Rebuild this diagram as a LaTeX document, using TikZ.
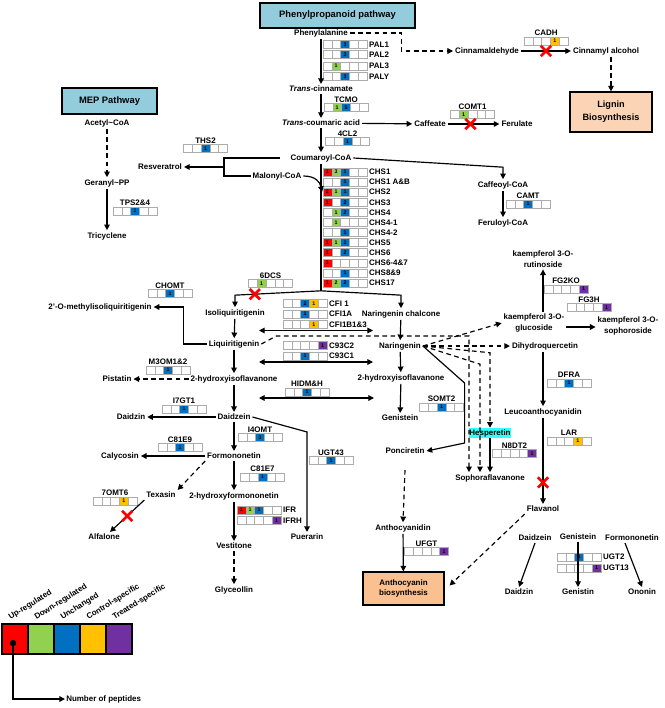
\documentclass[tikz,border=0pt]{standalone}
\usepackage{fontspec}
\setmainfont{Liberation Sans}
\usetikzlibrary{arrows.meta,positioning,calc,shapes.misc}
\definecolor{col1}{RGB}{255,0,0}
\definecolor{col2}{RGB}{146,208,80}
\definecolor{col3}{RGB}{0,112,192}
\definecolor{col4}{RGB}{255,192,0}
\definecolor{col5}{RGB}{112,48,160}
\definecolor{hdrblue}{RGB}{147,205,221}
\definecolor{peach}{RGB}{251,212,182}
\definecolor{peachdk}{RGB}{250,192,143}
\definecolor{hlcyan}{RGB}{51,255,255}
\newcommand{\enzbox}[3]{%
  \node[ebox] (#1) at #2 {};
  \foreach \k/\n in {#3} {
    \fill[col\k] ($(#1.north west)+(\k*8.8-8.8,0)$) rectangle ++(8.8,8);
    \node[num] (#1n\k) at ($(#1.north west)+(\k*8.8-4.4,4)$) {\n};
  }
  \foreach \k in {1,...,5}
    \draw[slot] ($(#1.north west)+(\k*8.8-8.8,0)$) rectangle ++(8.8,8);
}
\begin{document}
\begin{tikzpicture}[x=0.03cm,y=-0.03cm,font=\fontsize{6.8}{9.2}\selectfont\bfseries,
  >={Triangle[length=4.8pt,width=4.8pt]},line width=1pt,
  met/.style={inner sep=1.3pt,align=center},
  elab/.style={inner sep=0.6pt},
  hdr/.style={draw,line width=1pt,fill=hdrblue,font=\fontsize{8}{9}\selectfont\bfseries},
  fin/.style={draw,line width=1pt,fill=peach,align=center},
  ebox/.style={minimum width=1.32cm,minimum height=0.24cm,inner sep=0pt,outer sep=0pt},
  slot/.style={draw=gray!65,line width=0.5pt},
  num/.style={font=\fontsize{4.5}{5}\selectfont\bfseries,inner sep=0pt},
  redx/.style={cross out,draw=red,line width=2.3pt,minimum size=6.5pt,inner sep=0pt},
  arr/.style={->},
  darr/.style={->,dash pattern=on 4pt off 3pt}]
\fill[white,use as bounding box] (0,0) rectangle (664,708);

\node[hdr,minimum width=4.65cm,minimum height=0.75cm] (pphead) at (337.5,15.5) {Phenylpropanoid pathway};
\node[hdr,minimum width=2.85cm,minimum height=0.78cm] (mephead) at (109.5,101) {MEP Pathway};
\node[fin,minimum width=2.46cm,minimum height=1.2cm,font=\fontsize{7.8}{11}\selectfont\bfseries] (lignin) at (611,112) {Lignin\\Biosynthesis};
\node[fin,fill=peachdk,minimum width=2.43cm,minimum height=0.99cm] (antho) at (403.5,588.5) {Anthocyanin\\biosynthesis};

\node[met] (phe) at (321,33) {Phenylalanine};
\node[met] (tcin) at (321,89) {\textit{Trans}-cinnamate};
\node[met] (tcou) at (321,123) {\textit{Trans}-coumaric acid};
\node[met] (caff) at (430,124) {Caffeate};
\node[met] (ferul) at (517,124) {Ferulate};
\node[met] (cinald) at (487,51) {Cinnamaldehyde};
\node[met] (cinalc) at (606,51) {Cinnamyl alcohol};
\node[met] (coum) at (321,158) {Coumaroyl-CoA};
\node[met] (caffcoa) at (503,185) {Caffeoyl-CoA};
\node[met] (fercoa) at (503,223) {Feruloyl-CoA};
\node[met] (resv) at (160,167) {Resveratrol};
\node[met] (malo) at (277,176) {Malonyl-CoA};
\node[met] (acet) at (107,123) {Acetyl\textasciitilde CoA};
\node[met] (gera) at (107,183) {Geranyl\textasciitilde PP};
\node[met] (tric) at (107,236) {Tricyclene};
\node[met] (isoliq) at (235,313) {Isoliquiritigenin};
\node[met] (narchal) at (401,314) {Naringenin chalcone};
\node[met] (liq) at (234,344) {Liquiritigenin};
\node[met] (omiso) at (100,307) {2'-O-methylisoliquiritigenin};
\node[met] (nar) at (400,346) {Naringenin};
\node[met] (hifl) at (234,379) {2-hydroxyisoflavanone};
\node[met] (pist) at (117,379) {Pistatin};
\node[met] (hifr) at (401,378) {2-hydroxyisoflavanone};
\node[met] (daid) at (234,417) {Daidzein};
\node[met] (daidzin) at (131,417) {Daidzin};
\node[met] (gen) at (400,418) {Genistein};
\node[met] (ponc) at (405,451) {Ponciretin};
\node[met] (form) at (234,456) {Formononetin};
\node[met] (caly) at (120,456) {Calycosin};
\node[met] (texa) at (161,495) {Texasin};
\node[met] (alfa) at (104,537) {Alfalone};
\node[met] (hform) at (234,496) {2-hydroxyformononetin};
\node[met] (vest) at (234,546) {Vestitone};
\node[met] (glyc) at (234,590) {Glyceollin};
\node[met] (puer) at (307,537) {Puerarin};
\node[met] (anthd) at (403,528) {Anthocyanidin};
\node[met] (sopho) at (490,478) {Sophoraflavanone};
\node[met,fill=hlcyan,inner xsep=0.5pt,inner ysep=0.8pt] (hesp) at (490,433) {Hesperetin};
\node[met] (kglu) at (534,323) {kaempferol 3-O-\\glucoside};
\node[met] (krut) at (543,259) {kaempferol 3-O-\\rutinoside};
\node[met] (ksop) at (628,326) {kaempferol 3-O-\\sophoroside};
\node[met] (dihq) at (545,346) {Dihydroquercetin};
\node[met] (leuco) at (543,412) {Leucoanthocyanidin};
\node[met] (flav) at (543,509) {Flavanol};
\node[met] (daid2) at (535,538) {Daidzein};
\node[met] (gen2) at (578,537) {Genistein};
\node[met] (form2) at (632,538) {Formononetin};
\node[met] (daidzin2) at (519,592) {Daidzin};
\node[met] (genistin) at (578,592) {Genistin};
\node[met] (ononin) at (642,592) {Ononin};

\enzbox{pal1}{(345,44.5)}{3/3}
\enzbox{pal2}{(345,54.5)}{3/3}
\enzbox{pal3}{(345,66)}{2/1}
\enzbox{paly}{(345,76.5)}{3/3}
\enzbox{tcmo}{(346,107.5)}{2/1,3/5}
\enzbox{fourcl}{(347.5,141.5)}{3/1}
\enzbox{cadh}{(546,41)}{4/1}
\enzbox{comt}{(472.5,114.5)}{2/1}
\enzbox{ths}{(205.5,148.5)}{3/1}
\enzbox{tps}{(135,211)}{3/1}
\enzbox{camt}{(528,204)}{3/1}
\enzbox{chs1}{(345,172)}{1/1,2/3,3/1}
\enzbox{chs1ab}{(345,182)}{3/1}
\enzbox{chs2}{(345,192)}{1/2,2/1,3/1}
\enzbox{chs3}{(345,202.5)}{1/1,3/2}
\enzbox{chs4}{(345,212.5)}{2/1,3/2}
\enzbox{chs41}{(345,222.5)}{2/1}
\enzbox{chs42}{(345,232.5)}{3/1}
\enzbox{chs5}{(345,242.5)}{1/1,2/1,3/1}
\enzbox{chs6}{(345,252.5)}{1/1,3/2}
\enzbox{chs647}{(345,263)}{1/1}
\enzbox{chs89}{(345,273)}{3/1}
\enzbox{chs17}{(345,283)}{1/1,2/2,3/2}
\enzbox{dcs}{(270.5,283.5)}{2/1}
\enzbox{chomt}{(170,293.5)}{3/1}
\enzbox{cfia}{(305,303.5)}{3/2,4/1}
\enzbox{cfib}{(305,314)}{3/1}
\enzbox{cfic}{(305,324.5)}{4/1}
\enzbox{cypa}{(305,345.5)}{5/1}
\enzbox{cypb}{(305,356)}{3/1}
\enzbox{mtom}{(168,370)}{3/1}
\enzbox{hidm}{(307,392)}{3/1}
\enzbox{iseven}{(184,409)}{3/1}
\enzbox{somt}{(441.5,407)}{3/1}
\enzbox{ifomt}{(260,437.5)}{3/3}
\enzbox{ceone}{(180,447.5)}{3/1}
\enzbox{ugtft}{(331,460.5)}{3/1}
\enzbox{cetwo}{(262.5,477)}{3/1}
\enzbox{omt}{(115,501)}{4/1}
\enzbox{ifr}{(259,510)}{1/1,2/1,3/1}
\enzbox{ifrh}{(259,520.5)}{5/1}
\enzbox{ndt}{(514.5,453.5)}{5/1}
\enzbox{fgko}{(566,289)}{5/1}
\enzbox{fgh}{(589,307.5)}{5/1}
\enzbox{dfra}{(569,383)}{3/1}
\enzbox{lar}{(569,441)}{4/1}
\enzbox{ufgt}{(426.5,551.5)}{5/1}
\enzbox{ugtb}{(579,557)}{3/1}
\enzbox{ugtm}{(579,568)}{5/1}

\node[elab,right=0.8pt of pal1] (pal1l) {PAL1};
\node[elab,right=0.8pt of pal2] (pal2l) {PAL2};
\node[elab,right=0.8pt of pal3] (pal3l) {PAL3};
\node[elab,right=0.8pt of paly] (palyl) {PALY};
\node[elab,above=0pt of tcmo] (tcmol) {TCMO};
\node[elab,above=0pt of fourcl] (fourcll) {4CL2};
\node[elab,above=0pt of cadh] (cadhl) {CADH};
\node[elab,above=0pt of comt] (comtl) {COMT1};
\node[elab,above=0pt of ths] (thsl) {THS2};
\node[elab,above=0pt of tps] (tpsl) {TPS2\&4};
\node[elab,above=0pt of camt] (camtl) {CAMT};
\node[elab,right=0.8pt of chs1] (chs1l) {CHS1};
\node[elab,right=0.8pt of chs1ab] (chs1abl) {CHS1 A\&B};
\node[elab,right=0.8pt of chs2] (chs2l) {CHS2};
\node[elab,right=0.8pt of chs3] (chs3l) {CHS3};
\node[elab,right=0.8pt of chs4] (chs4l) {CHS4};
\node[elab,right=0.8pt of chs41] (chs41l) {CHS4-1};
\node[elab,right=0.8pt of chs42] (chs42l) {CHS4-2};
\node[elab,right=0.8pt of chs5] (chs5l) {CHS5};
\node[elab,right=0.8pt of chs6] (chs6l) {CHS6};
\node[elab,right=0.8pt of chs647] (chs647l) {CHS6-4\&7};
\node[elab,right=0.8pt of chs89] (chs89l) {CHS8\&9};
\node[elab,right=0.8pt of chs17] (chs17l) {CHS17};
\node[elab,above=0pt of dcs] (dcsl) {6DCS};
\node[elab,above=0pt of chomt] (chomtl) {CHOMT};
\node[elab,right=0.8pt of cfia] (cfial) {CFI 1};
\node[elab,right=0.8pt of cfib] (cfibl) {CFI1A};
\node[elab,right=0.8pt of cfic] (cficl) {CFI1B1\&3};
\node[elab,right=0.8pt of cypa] (cypal) {C93C2};
\node[elab,right=0.8pt of cypb] (cypbl) {C93C1};
\node[elab,above=0pt of mtom] (mtoml) {M3OM1\&2};
\node[elab,above=0pt of hidm] (hidml) {HIDM\&H};
\node[elab,above=0pt of iseven] (isevenl) {I7GT1};
\node[elab,above=0pt of somt] (somtl) {SOMT2};
\node[elab,above=0pt of ifomt] (ifomtl) {I4OMT};
\node[elab,above=0pt of ceone] (ceonel) {C81E9};
\node[elab,above=0pt of ugtft] (ugtftl) {UGT43};
\node[elab,above=0pt of cetwo] (cetwol) {C81E7};
\node[elab,above=0pt of omt] (omtl) {7OMT6};
\node[elab,right=0.8pt of ifr] (ifrl) {IFR};
\node[elab,right=0.8pt of ifrh] (ifrhl) {IFRH};
\node[elab,above=0pt of ndt] (ndtl) {N8DT2};
\node[elab,above=0pt of fgko] (fgkol) {FG2KO};
\node[elab,above=0pt of fgh] (fghl) {FG3H};
\node[elab,above=0pt of dfra] (dfral) {DFRA};
\node[elab,above=0pt of lar] (larl) {LAR};
\node[elab,above=0pt of ufgt] (ufgtl) {UFGT};
\node[elab,right=0.8pt of ugtb] (ugtbl) {UGT2};
\node[elab,right=0.8pt of ugtm] (ugtml) {UGT13};

\draw[arr] (phe) -- (tcin);
\draw[arr] (tcin) -- (tcou);
\draw[arr] (tcou) -- (coum);
\draw[darr] (phe.east) -| ($(phe.east)!.5!(cinald.west)$) |- (cinald.west);
\draw[arr] (cinald) -- node[redx] (xcadh) {} (cinalc);
\draw[darr] (lignin.north |- cinalc.south) -- (lignin.north);
\draw[arr] (tcou) -- (caff);
\draw[arr] (caff) -- node[redx,pos=.44] (xcomt) {} (ferul);
\draw[arr] (coum.east) -- ($(caffcoa.north)+(0,-12)$) -- (caffcoa.north);
\draw[arr] (caffcoa) -- (fercoa);
\coordinate (fork) at ($(resv.east)+(40,0)$);
\draw ($(coum.west)+(-9,0)$) -| (fork) |- (malo.west);
\draw[arr] (fork) -- (resv);
\draw[arr] (malo.east) .. controls +(12,0) and +(-2,-10) .. ($(chs2.west)+(-1,0)$);
\coordinate (chsend) at ($(coum.south)+(0,127)$);
\draw (coum.south) -- (chsend);
\draw[arr] (chsend) -- node[redx,pos=.77] (xdcs) {} ($(isoliq.north)+(0,-12)$) -- (isoliq.north);
\draw[arr] (chsend) -- ($(narchal.north)+(0,-13)$) -- (narchal.north);
\draw[arr] (isoliq) -- (liq);
\draw[arr] (liq) -- (hifl);
\draw[arr] (hifl) -- (daid);
\draw[arr] (daid) -- (form);
\draw[arr] (form) -- (hform);
\draw[arr] (hform) -- (vest);
\draw[darr] (vest) -- (glyc);
\draw[arr] (narchal) -- (nar);
\draw[arr] (nar) -- (hifr);
\draw[arr] (hifr) -- (gen);
\draw[<->] ($(cfic.south west)+(-24,2)$) -- ($(cfic.south east)+(46,2)$);
\draw[<->] ($(cypb.south west)+(-24,2)$) -- ($(cypb.south east)+(46,2)$);
\draw[<->] ($(hidm.south west)+(-26,2)$) -- ($(hidm.south east)+(45,2)$);
\draw[arr] (liq.west) -| ($(omiso.east)+(30,0)$) -- (omiso.east);
\draw[darr] (hifl) -- (pist);
\draw[darr] (liq.east) -- ++(15,-8) -| ($(sopho.north)+(-21,0)$);
\draw[darr] (nar.east) -- (kglu.west);
\draw[darr] (nar.east) -- (dihq.west);
\draw[darr] (nar.east) -- ($(hesp.north)+(0,-75)$) -- (hesp.north);
\draw[darr] (nar.east) -- ($(sopho.north)+(-10,-108)$) -- ($(sopho.north)+(-10,0)$);
\draw[arr] (nar.east) -- ($(ponc.east)+(38,-68)$) -- ($(ponc.east)+(38,-8)$) -- (ponc.east);
\draw[arr] (hesp.south) -- (hesp.south |- sopho.north);
\draw[darr] ($(ponc.south)+(0,14)$) -- (anthd.north);
\draw[arr] (anthd) -- (antho);
\draw[darr] (flav.south west) -- ($(antho.east)+(5,-3)$);
\draw[arr] (kglu.north -| krut.south) -- (krut.south);
\draw[arr] ($(kglu.east)+(0,4)$) -- ($(ksop.west)+(0,1)$);
\draw[arr] (dihq.south -| leuco.north) -- (leuco.north);
\draw[arr] (leuco) -- node[redx,pos=.75] (xlar) {} (flav);
\draw[arr] (daid) -- (daidzin);
\draw[arr] (form) -- (caly);
\draw[darr] (form.south west) -- (texa.north east);
\draw[arr] (texa.south west) -- node[redx] (xomt) {} ($(alfa.north)+(6,0)$);
\draw[arr] (daid.east) -- ($(puer.north)+(0,-100)$) -- (puer.north);
\draw[arr] (daid2.south) -- (daidzin2.north);
\draw[arr] (gen2) -- (genistin);
\draw[arr] ($(form2.south)+(-7,0)$) -- (ononin.north);
\draw[darr] (acet) -- (gera);
\draw[arr] (gera) -- (tric);

\foreach \k in {1,...,5}
  \fill[col\k] (\k*26-24,624) rectangle ++(26,30);
\foreach \k in {1,...,4}
  \draw[line width=0.9pt] (\k*26+2,624) -- ++(0,30);
\draw[line width=0.9pt] (2,624) rectangle (132,654);
\foreach \t [count=\k] in {Up-regulated,Down-regulated,Unchanged,Control-specific,Treated-specific}
  \node[elab,anchor=south west,rotate=32] (leg\k) at (\k*26-15,623) {\t};
\node[circle,fill=black,inner sep=0pt,minimum size=5.5pt] (dot) at (13,643) {};
\node[elab,anchor=west] (npep) at (65,699) {Number of peptides};
\draw[arr] (dot.center) |- (npep.west);
\end{tikzpicture}
\end{document}
